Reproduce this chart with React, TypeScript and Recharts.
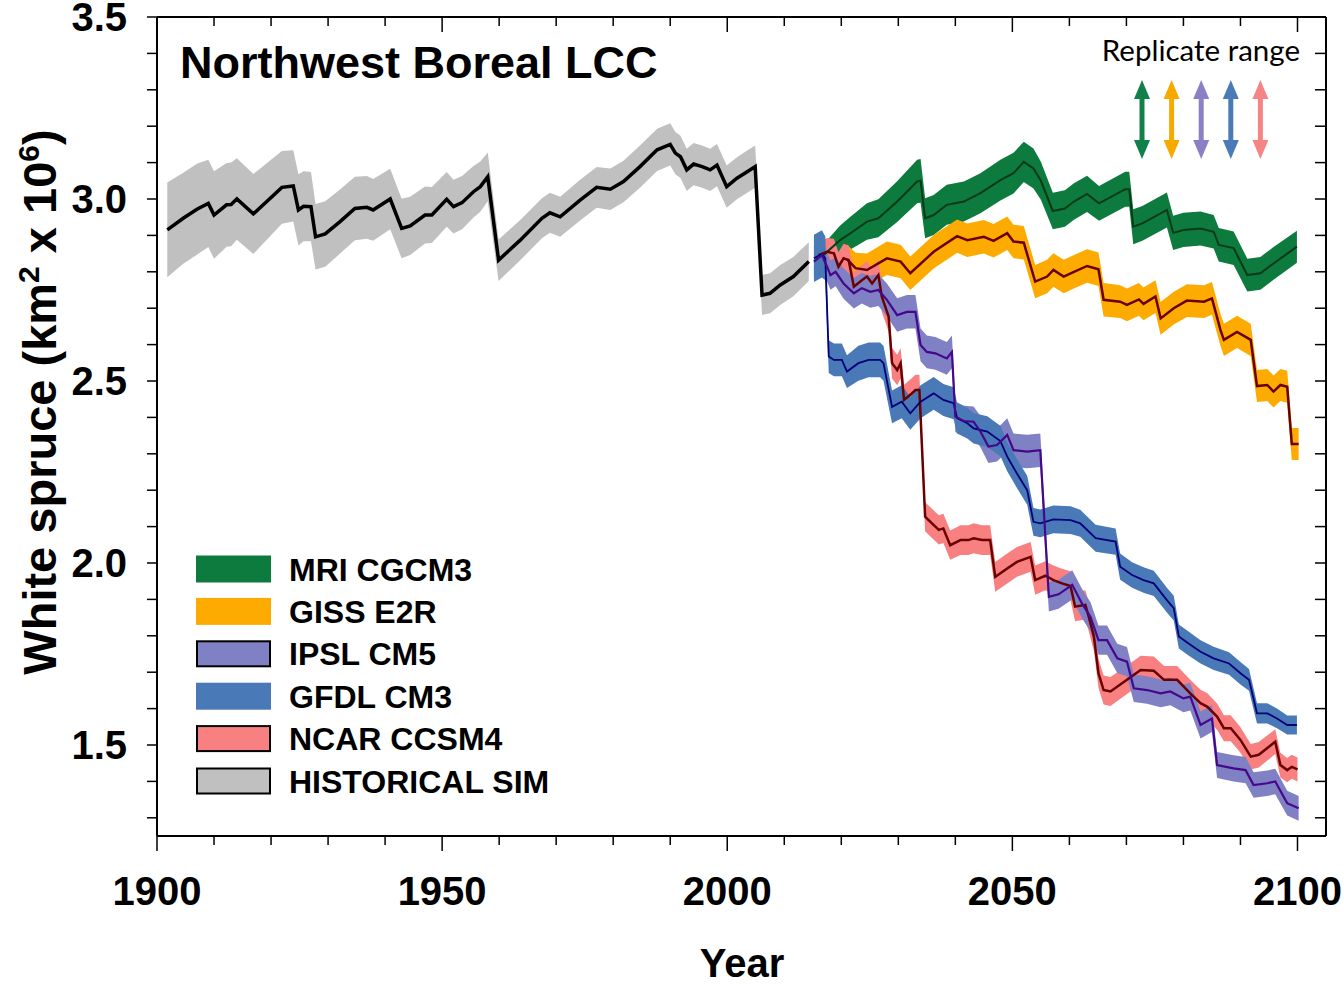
import React from 'react';
import { ComposedChart, Area, Line, XAxis, YAxis } from 'recharts';

const FONT = '"Liberation Sans", Arial, Helvetica, sans-serif';

// plot box (page px)
const L = 157;
const T = 17;
const R = 1326;
const B = 836;
const W = 1344;
const H = 987;

// historical simulation
const histYears = [
  1901.8, 1904.6, 1907, 1909, 1910, 1912.2, 1913, 1914, 1916.9, 1921.9,
  1923.9, 1924.8, 1925.7, 1927, 1927.8, 1929.5, 1932.1, 1934.7, 1936.8, 1937.9,
  1940.9, 1942.9, 1944.4, 1947, 1948.2, 1950.8, 1952, 1953.5, 1955.5, 1956.7,
  1958, 1959.9, 1963.7, 1967.5, 1968.9, 1970.7, 1974.2, 1977.1, 1979.5, 1981.8,
  1984.7, 1987.7, 1990, 1990.9, 1991.8, 1992.9, 1994.1, 1995.6, 1997, 1998.2,
  1999.9, 2001.7, 2003.5, 2004.9, 2006.1, 2007.5, 2009.3, 2011.6, 2014.3,
];
const histMean = [
  2.915, 2.947, 2.972, 2.988, 2.956, 2.984, 2.985, 3.0, 2.959, 3.032,
  3.036, 2.97, 2.98, 2.979, 2.896, 2.904, 2.938, 2.974, 2.977, 2.97,
  3.0, 2.919, 2.926, 2.956, 2.956, 2.999, 2.979, 2.99, 3.02, 3.034,
  3.061, 2.832, 2.887, 2.947, 2.962, 2.951, 2.997, 3.032, 3.027, 3.048,
  3.089, 3.135, 3.15, 3.126, 3.116, 3.08, 3.096, 3.089, 3.08, 3.093,
  3.034, 3.057, 3.075, 3.089, 2.736, 2.741, 2.764, 2.787, 2.828,
];
const histSpread = [
  0.13, 0.125, 0.125, 0.12, 0.12, 0.115, 0.115, 0.112, 0.11, 0.1,
  0.098, 0.098, 0.096, 0.095, 0.09, 0.09, 0.088, 0.087, 0.086, 0.085,
  0.083, 0.082, 0.08, 0.078, 0.077, 0.075, 0.074, 0.073, 0.071, 0.069,
  0.067, 0.057, 0.055, 0.055, 0.055, 0.055, 0.056, 0.056, 0.057, 0.057,
  0.058, 0.058, 0.058, 0.058, 0.058, 0.058, 0.058, 0.058, 0.058, 0.058,
  0.058, 0.058, 0.058, 0.058, 0.055, 0.055, 0.055, 0.054, 0.053,
];

// MRI CGCM3
const mriYears = [
  2016.9, 2019.8, 2021.6, 2024.5, 2026.5, 2029.8, 2033.3, 2033.9, 2034.7, 2036.2,
  2038.5, 2041.5, 2044.4, 2047.9, 2050.2, 2052.0, 2053.7, 2055.0, 2057.1, 2059.2,
  2060.8, 2063.1, 2065.2, 2069.8, 2070.5, 2071.2, 2072.8, 2077.1, 2078.2, 2080.0,
  2083.0, 2085.3, 2086.2, 2088.8, 2091.2, 2093.5, 2095.8, 2099.9,
];
const mriMean = [
  2.846, 2.887, 2.906, 2.938, 2.947, 2.993, 3.048, 3.05, 2.947, 2.956,
  2.984, 2.993, 3.016, 3.052, 3.071, 3.102, 3.084, 3.05, 2.967, 2.974,
  2.993, 3.014, 2.988, 3.027, 3.027, 2.924, 2.933, 2.97, 2.907, 2.915,
  2.919, 2.91, 2.874, 2.865, 2.791, 2.796, 2.823, 2.869,
];
const mriSpread = [
  0.03, 0.04, 0.045, 0.05, 0.052, 0.056, 0.06, 0.06, 0.055, 0.055,
  0.055, 0.055, 0.055, 0.056, 0.056, 0.055, 0.055, 0.052, 0.05, 0.05,
  0.05, 0.05, 0.048, 0.048, 0.048, 0.048, 0.048, 0.048, 0.047, 0.047,
  0.047, 0.046, 0.046, 0.046, 0.045, 0.045, 0.045, 0.044,
];

// GISS E2R
const gissYears = [
  2021.0, 2022.5, 2024.5, 2028.0, 2030.4, 2032.1, 2036.2, 2040.3, 2042.1, 2045.0,
  2046.7, 2049.1, 2050.2, 2052.0, 2054.0, 2056.1, 2057.2, 2059.0, 2060.8, 2063.1,
  2065.1, 2066.0, 2068.9, 2070.1, 2072.2, 2073.0, 2075.1, 2076.0, 2078.3, 2080.6,
  2083.6, 2085.0, 2086.5, 2087.1, 2089.4, 2091.8, 2092.9, 2094.7, 2095.8, 2097.0,
  2098.2, 2099.0, 2100.2,
];
const gissMean = [
  2.835, 2.81, 2.805, 2.837, 2.828, 2.796, 2.855, 2.898, 2.887, 2.896,
  2.885, 2.906, 2.883, 2.88, 2.773, 2.787, 2.805, 2.787, 2.8, 2.816,
  2.807, 2.723, 2.718, 2.709, 2.724, 2.712, 2.732, 2.672, 2.7, 2.721,
  2.718, 2.727, 2.64, 2.613, 2.635, 2.613, 2.486, 2.489, 2.471, 2.489,
  2.484, 2.327, 2.327,
];
const gissSpread = [
  0.04, 0.042, 0.045, 0.046, 0.046, 0.046, 0.046, 0.046, 0.046, 0.046,
  0.046, 0.046, 0.046, 0.046, 0.046, 0.046, 0.046, 0.046, 0.046, 0.046,
  0.046, 0.046, 0.045, 0.045, 0.045, 0.045, 0.045, 0.045, 0.045, 0.045,
  0.045, 0.045, 0.044, 0.044, 0.044, 0.044, 0.044, 0.044, 0.044, 0.044,
  0.044, 0.044, 0.044,
];

// IPSL CM5
const ipslYears = [
  2015.2, 2016.6, 2017.5, 2018.1, 2019.0, 2020.4, 2022.2, 2023.6, 2025.1, 2026.5,
  2028.0, 2029.8, 2031.5, 2033.0, 2033.9, 2035.0, 2036.5, 2038.5, 2039.4, 2040.0,
  2041.5, 2043.2, 2044.4, 2045.8, 2047.3, 2049.1, 2050.2, 2052.6, 2054.9, 2056.4,
  2058.1, 2060.5, 2062.2, 2063.7, 2065.1, 2066.6, 2068.4, 2070.1, 2071.3, 2073.6,
  2076.0, 2077.7, 2080.0, 2081.2, 2083.0, 2085.0, 2085.9, 2088.8, 2090.9, 2092.3,
  2094.7, 2096.1, 2098.2, 2100.2,
];
const ipslMean = [
  2.828, 2.846, 2.814, 2.791, 2.8, 2.768, 2.741, 2.755, 2.745, 2.75,
  2.723, 2.681, 2.69, 2.69, 2.599, 2.58, 2.576, 2.562, 2.58, 2.402,
  2.39, 2.388, 2.361, 2.32, 2.324, 2.352, 2.31, 2.306, 2.31, 1.907,
  1.914, 1.94, 1.889, 1.852, 1.788, 1.788, 1.738, 1.729, 1.656, 1.651,
  1.642, 1.647, 1.628, 1.633, 1.555, 1.573, 1.445, 1.436, 1.431, 1.39,
  1.395, 1.4, 1.34, 1.326,
];
const ipslSpread = [
  0.04, 0.04, 0.04, 0.04, 0.04, 0.042, 0.042, 0.042, 0.044, 0.044,
  0.045, 0.046, 0.046, 0.046, 0.045, 0.045, 0.045, 0.045, 0.045, 0.042,
  0.042, 0.042, 0.043, 0.045, 0.045, 0.046, 0.046, 0.046, 0.046, 0.04,
  0.04, 0.04, 0.04, 0.04, 0.04, 0.04, 0.04, 0.04, 0.038, 0.038,
  0.038, 0.038, 0.038, 0.038, 0.037, 0.037, 0.036, 0.036, 0.036, 0.035,
  0.035, 0.035, 0.034, 0.034,
];

// GFDL CM3
const gfdlYears = [
  2015.2, 2016.6, 2017.2, 2017.8, 2018.7, 2020.1, 2021.0, 2023.0, 2024.8, 2026.8,
  2027.4, 2028.9, 2030.6, 2032.1, 2033.9, 2036.2, 2037.9, 2039.7, 2040.3, 2042.1,
  2043.2, 2045.6, 2047.9, 2049.1, 2050.8, 2052.6, 2053.7, 2054.9, 2057.2, 2060.2,
  2061.9, 2064.6, 2068.1, 2068.9, 2071.0, 2073.0, 2074.8, 2077.1, 2078.3, 2079.2,
  2080.9, 2083.0, 2085.3, 2088.0, 2090.0, 2091.5, 2092.9, 2094.7, 2096.4, 2098.2,
  2099.9,
];
const gfdlMean = [
  2.837, 2.849, 2.837, 2.567, 2.558, 2.558, 2.526, 2.549, 2.558, 2.558,
  2.549, 2.429, 2.443, 2.411, 2.443, 2.466, 2.448, 2.439, 2.398, 2.384,
  2.37, 2.361, 2.335, 2.292, 2.246, 2.2, 2.113, 2.109, 2.12, 2.118,
  2.109, 2.068, 2.059, 1.99, 1.967, 1.953, 1.944, 1.898, 1.876, 1.798,
  1.779, 1.756, 1.738, 1.724, 1.697, 1.679, 1.587, 1.587, 1.573, 1.555,
  1.555,
];
const gfdlSpread = [
  0.065, 0.065, 0.06, 0.045, 0.045, 0.045, 0.045, 0.048, 0.048, 0.048,
  0.048, 0.045, 0.045, 0.045, 0.045, 0.045, 0.044, 0.044, 0.042, 0.042,
  0.042, 0.042, 0.042, 0.04, 0.04, 0.04, 0.038, 0.038, 0.038, 0.038,
  0.037, 0.037, 0.036, 0.036, 0.035, 0.035, 0.035, 0.034, 0.034, 0.033,
  0.033, 0.032, 0.032, 0.031, 0.031, 0.03, 0.028, 0.028, 0.027, 0.026,
  0.026,
];

// NCAR CCSM4
const ncarYears = [
  2016.0, 2017.5, 2018.7, 2019.5, 2020.4, 2021.3, 2022.2, 2023.6, 2024.5, 2025.4,
  2026.5, 2027.1, 2028.3, 2028.9, 2029.8, 2030.4, 2031.0, 2032.1, 2033.0, 2033.7,
  2034.7, 2035.9, 2037.1, 2037.9, 2039.1, 2040.9, 2042.3, 2043.2, 2044.7, 2046.1,
  2047.0, 2049.1, 2050.8, 2053.2, 2054.0, 2055.8, 2057.2, 2058.7, 2060.2, 2061.0,
  2062.8, 2063.4, 2064.3, 2065.1, 2066.0, 2067.2, 2070.1, 2072.5, 2074.8, 2076.6,
  2078.9, 2081.2, 2083.0, 2084.2, 2085.9, 2087.1, 2088.3, 2090.0, 2091.8, 2093.2,
  2096.1, 2097.0, 2098.2, 2099.0, 2100.0,
];
const ncarMean = [
  2.846, 2.855, 2.851, 2.814, 2.837, 2.832, 2.759, 2.777, 2.787, 2.768,
  2.791, 2.732, 2.677, 2.549, 2.53, 2.549, 2.448, 2.462, 2.475, 2.475,
  2.127, 2.109, 2.091, 2.095, 2.049, 2.063, 2.063, 2.068, 2.063, 2.063,
  1.962, 1.985, 2.003, 2.017, 1.953, 1.965, 1.953, 1.944, 1.937, 1.88,
  1.885, 1.852, 1.798, 1.697, 1.651, 1.647, 1.679, 1.706, 1.704, 1.679,
  1.679, 1.642, 1.615, 1.605, 1.578, 1.546, 1.546, 1.514, 1.468, 1.473,
  1.509, 1.445, 1.431, 1.44, 1.433,
];
const ncarSpread = [
  0.035, 0.038, 0.04, 0.04, 0.04, 0.04, 0.04, 0.042, 0.042, 0.042,
  0.042, 0.042, 0.042, 0.042, 0.042, 0.042, 0.042, 0.042, 0.042, 0.042,
  0.04, 0.04, 0.04, 0.04, 0.04, 0.041, 0.041, 0.041, 0.041, 0.041,
  0.041, 0.041, 0.041, 0.041, 0.04, 0.04, 0.04, 0.04, 0.04, 0.04,
  0.04, 0.04, 0.04, 0.04, 0.04, 0.04, 0.039, 0.039, 0.039, 0.038,
  0.038, 0.037, 0.037, 0.037, 0.036, 0.036, 0.036, 0.035, 0.035, 0.035,
  0.034, 0.034, 0.033, 0.033, 0.033,
];

const xTicks = [
  1900, 1910, 1920, 1930, 1940, 1950, 1960, 1970, 1980, 1990, 2000,
  2010, 2020, 2030, 2040, 2050, 2060, 2070, 2080, 2090, 2100,
];
const yTicks = [
  1.3, 1.4, 1.5, 1.6, 1.7, 1.8, 1.9, 2.0, 2.1, 2.2, 2.3, 2.4,
  2.5, 2.6, 2.7, 2.8, 2.9, 3.0, 3.1, 3.2, 3.3, 3.4, 3.5,
];

const legendNames = ['MRI CGCM3', 'GISS E2R', 'IPSL CM5', 'GFDL CM3', 'NCAR CCSM4', 'HISTORICAL SIM'];
const legendFills = ['#0c7b3d', '#fdab00', '#8080c4', '#4a79b8', '#f98080', '#c0c0c0'];
const legendBorders = ['#0c7b3d', '#fdab00', '#000', '#4a79b8', '#000', '#000'];
const arrowColors = ['#12804a', '#f7a900', '#8a80c6', '#4a7bb8', '#f58585'];

const toRows = (years: number[], mean: number[], spread: number[]) =>
  years.map((year, i) => ({
    year,
    mean: mean[i],
    band: [+(mean[i] - spread[i]).toFixed(3), +(mean[i] + spread[i]).toFixed(3)],
  }));

const histData = toRows(histYears, histMean, histSpread);
const mriData = toRows(mriYears, mriMean, mriSpread);
const gissData = toRows(gissYears, gissMean, gissSpread);
const ipslData = toRows(ipslYears, ipslMean, ipslSpread);
const gfdlData = toRows(gfdlYears, gfdlMean, gfdlSpread);
const ncarData = toRows(ncarYears, ncarMean, ncarSpread);

// band layers, bottom to top
const bands = [
  { id: 'mri', data: mriData, fill: '#0c7b3d' },
  { id: 'giss', data: gissData, fill: '#fdab00' },
  { id: 'ncar', data: ncarData, fill: '#f98080' },
  { id: 'ipsl', data: ipslData, fill: '#8080c4' },
  { id: 'gfdl', data: gfdlData, fill: '#4a79b8' },
];
const means = [
  { id: 'mri', data: mriData, stroke: '#083a18', width: 2 },
  { id: 'giss', data: gissData, stroke: '#6a0000', width: 2.5 },
  { id: 'ncar', data: ncarData, stroke: '#6a0000', width: 2.5 },
  { id: 'gfdl', data: gfdlData, stroke: '#00007a', width: 1.8 },
  { id: 'ipsl', data: ipslData, stroke: '#45078c', width: 2.2 },
];

const BottomTick = (props: any) => {
  const { x, payload } = props;
  const major = payload.value % 50 === 0;
  return (
    <g>
      <line x1={x} y1={B} x2={x} y2={B + (major ? 15 : 9)} stroke="#000" strokeWidth={1.5} />
      {major && (
        <text x={x} y={B + 69} textAnchor="middle" fontFamily={FONT} fontWeight="bold" fontSize={40} fill="#000">
          {payload.value}
        </text>
      )}
    </g>
  );
};

const TopTick = (props: any) => {
  const { x, payload } = props;
  const major = payload.value % 50 === 0;
  return <line x1={x} y1={T} x2={x} y2={T + (major ? 15 : 9)} stroke="#000" strokeWidth={1.5} />;
};

const LeftTick = (props: any) => {
  const { y, payload } = props;
  const v = Math.round(payload.value * 10);
  return (
    <g>
      <line x1={L} y1={y} x2={L - 10} y2={y} stroke="#000" strokeWidth={1.5} />
      {v % 5 === 0 && (
        <text x={L - 30} y={y + 14} textAnchor="end" fontFamily={FONT} fontWeight="bold" fontSize={40} fill="#000">
          {payload.value.toFixed(1)}
        </text>
      )}
    </g>
  );
};

const RightTick = (props: any) => {
  const { y } = props;
  return <line x1={R} y1={y} x2={R - 11} y2={y} stroke="#000" strokeWidth={1.5} />;
};

const axisLine = { stroke: '#000', strokeWidth: 2 };

export default function App() {
  return (
    <div style={{ position: 'relative', width: W, height: H, overflow: 'visible' }}>
      <style>{'html, body { margin: 0; padding: 0; } .recharts-surface { overflow: visible; }'}</style>
      <div style={{ position: 'absolute', left: 0, top: 0, width: W, height: H }}>
        <ComposedChart
          width={W}
          height={H}
          margin={{ top: T - 1, right: W - R - 1, bottom: 0, left: L - 1 }}
        >
          <XAxis
            dataKey="year"
            type="number"
            domain={[1900, 2105]}
            ticks={xTicks}
            interval={0}
            height={H - B}
            tickSize={0}
            tickMargin={0}
            tickLine={false}
            tick={<BottomTick />}
            axisLine={axisLine}
            allowDataOverflow
          />
          <XAxis
            xAxisId="top"
            orientation="top"
            dataKey="year"
            type="number"
            domain={[1900, 2105]}
            ticks={xTicks}
            interval={0}
            height={1}
            tickSize={0}
            tickMargin={0}
            tickLine={false}
            tick={<TopTick />}
            axisLine={axisLine}
            allowDataOverflow
          />
          <YAxis
            type="number"
            domain={[1.25, 3.5]}
            ticks={yTicks}
            interval={0}
            width={1}
            tickSize={0}
            tickMargin={0}
            tickLine={false}
            tick={<LeftTick />}
            axisLine={axisLine}
            allowDataOverflow
          />
          <YAxis
            yAxisId="right"
            orientation="right"
            type="number"
            domain={[1.25, 3.5]}
            ticks={yTicks}
            interval={0}
            width={1}
            tickSize={0}
            tickMargin={0}
            tickLine={false}
            tick={<RightTick />}
            axisLine={axisLine}
            allowDataOverflow
          />

          <Area
            data={histData}
            dataKey="band"
            type="linear"
            stroke="none"
            fill="#c0c0c0"
            fillOpacity={1}
            dot={false}
            activeDot={false}
            isAnimationActive={false}
          />
          <Line
            data={histData}
            dataKey="mean"
            type="linear"
            stroke="#000"
            strokeWidth={3.5}
            dot={false}
            activeDot={false}
            isAnimationActive={false}
          />
          {bands.map((b) => (
            <Area
              key={`band-${b.id}`}
              data={b.data}
              dataKey="band"
              type="linear"
              stroke="none"
              fill={b.fill}
              fillOpacity={1}
              dot={false}
              activeDot={false}
              isAnimationActive={false}
            />
          ))}
          {means.map((m) => (
            <Line
              key={`mean-${m.id}`}
              data={m.data}
              dataKey="mean"
              type="linear"
              stroke={m.stroke}
              strokeWidth={m.width}
              dot={false}
              activeDot={false}
              isAnimationActive={false}
            />
          ))}
        </ComposedChart>
      </div>

      <svg
        width={W}
        height={H}
        style={{ position: 'absolute', left: 0, top: 0, pointerEvents: 'none', overflow: 'visible' }}
      >
        <text x={180} y={78} fontFamily={FONT} fontWeight="bold" fontSize={45} fill="#000">
          Northwest Boreal LCC
        </text>

        <text
          x={56}
          y={402}
          transform="rotate(-90 56 402)"
          textAnchor="middle"
          fontFamily={FONT}
          fontWeight="bold"
          fontSize={47}
          fill="#000"
        >
          White spruce (km
          <tspan dy={-17} fontSize={30}>2</tspan>
          <tspan dy={17}> x 10</tspan>
          <tspan dy={-17} fontSize={30}>6</tspan>
          <tspan dy={17}>)</tspan>
        </text>

        <text x={742} y={977} textAnchor="middle" fontFamily={FONT} fontWeight="bold" fontSize={40} fill="#000">
          Year
        </text>

        <text x={1300} y={61} textAnchor="end" fontFamily="Lato, 'Open Sans', sans-serif" fontSize={29.5} fill="#000">
          Replicate range
        </text>
        {arrowColors.map((c, i) => {
          const cx = 1142 + i * 29.6;
          return (
            <g key={`arrow-${i}`}>
              <rect x={cx - 2.5} y={95} width={5} height={50} fill={c} />
              <polygon points={`${cx},80 ${cx - 8},99 ${cx + 8},99`} fill={c} />
              <polygon points={`${cx},159 ${cx - 8},140 ${cx + 8},140`} fill={c} />
            </g>
          );
        })}

        {legendNames.map((name, i) => {
          const cy = 569 + i * 42.4;
          return (
            <g key={`leg-${i}`}>
              <rect
                x={197}
                y={cy - 12.5}
                width={73}
                height={25}
                fill={legendFills[i]}
                stroke={legendBorders[i]}
                strokeWidth={2}
              />
              <text x={289} y={cy + 11.5} fontFamily={FONT} fontWeight="bold" fontSize={32} fill="#000">
                {name}
              </text>
            </g>
          );
        })}
      </svg>
    </div>
  );
}
